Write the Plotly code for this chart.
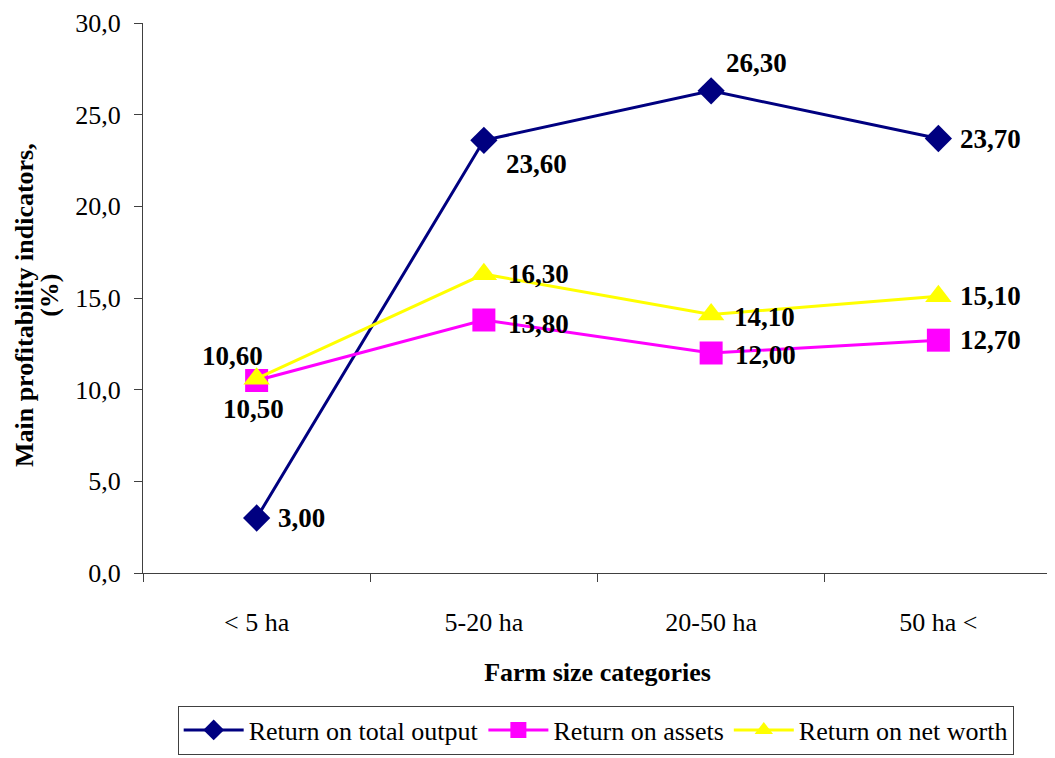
import plotly.graph_objects as go

categories = ["< 5 ha", "5-20 ha", "20-50 ha", "50 ha <"]
total_output = [3.00, 23.60, 26.30, 23.70]
assets = [10.50, 13.80, 12.00, 12.70]
net_worth = [10.60, 16.30, 14.10, 15.10]

# label placement styles (anchor, xshift, yshift) per point
lab_total = [("left", 19, 0), ("left", 20, -24), ("left", 13, 28), ("left", 20, 0)]
lab_assets = [("center", -3, -28), ("left", 22, -4), ("left", 22, -2), ("left", 20, 0)]
lab_net = [("center", -24, 23), ("left", 22, 0), ("left", 21, -2), ("left", 20, 0)]

FONT = "Liberation Serif"

fig = go.Figure()
series = [
    ("Return on total output", total_output, "#000080", "diamond", 21, lab_total),
    ("Return on assets", assets, "#FF00FF", "square", 23, lab_assets),
    ("Return on net worth", net_worth, "#FFFF00", "triangle-up", 23, lab_net),
]
for name, vals, col, sym, sz, labs in series:
    fig.add_trace(go.Scatter(
        x=categories, y=vals, name=name, mode="lines+markers",
        line=dict(color=col, width=3),
        marker=dict(symbol=sym, size=sz, color=col),
    ))
for name, vals, col, sym, sz, labs in series:
    for c, v, (anc, dx, dy) in zip(categories, vals, labs):
        fig.add_annotation(
            x=c, y=v, xref="x", yref="y", text="<b>" + f"{v:.2f}".replace(".", ",") + "</b>",
            showarrow=False, xanchor=anc, yanchor="middle", xshift=dx, yshift=dy,
            font=dict(family=FONT, size=27, color="black"),
        )

fig.add_annotation(
    x=-0.131, y=0.487, xref="paper", yref="paper", xanchor="center", yanchor="middle",
    text="<b>Main profitability indicators,</b>", textangle=-90, showarrow=False,
    font=dict(family=FONT, size=26, color="black"),
)
fig.add_annotation(
    x=-0.1023, y=0.504, xref="paper", yref="paper", xanchor="center", yanchor="middle",
    text="<b>(%)</b>", textangle=-90, showarrow=False,
    font=dict(family=FONT, size=26, color="black"),
)

fig.update_layout(
    width=1047, height=750,
    margin=dict(l=135, r=3, t=15, b=180),
    paper_bgcolor="white", plot_bgcolor="white",
    separators=",.",
    font=dict(family=FONT, size=26, color="black"),
    showlegend=True,
    legend=dict(
        orientation="h", x=0.498, xanchor="center", y=-0.241, yanchor="top",
        bordercolor="#404040", borderwidth=1, font=dict(family=FONT, size=26),
        tracegroupgap=0, itemwidth=60,
    ),
)
fig.update_xaxes(
    type="category", range=[-0.5, 3.5], automargin=False,
    showline=True, linecolor="#404040", linewidth=1,
    ticks="outside", ticklen=8, tickcolor="#404040", tickson="boundaries",
    ticklabelstandoff=26,
    showgrid=False, zeroline=False,
    tickfont=dict(family=FONT, size=26),
    title=dict(text="<b>Farm size categories</b>", font=dict(family=FONT, size=26), standoff=26),
)
fig.update_yaxes(
    range=[0, 30], dtick=5, tickformat=".1f", automargin=False,
    showline=True, linecolor="#404040", linewidth=1,
    ticks="outside", ticklen=8, tickcolor="#404040",
    ticklabelstandoff=8, ticklabeloverflow="allow",
    showgrid=False, zeroline=False,
    tickfont=dict(family=FONT, size=26),
)

fig.write_html("out.html")
